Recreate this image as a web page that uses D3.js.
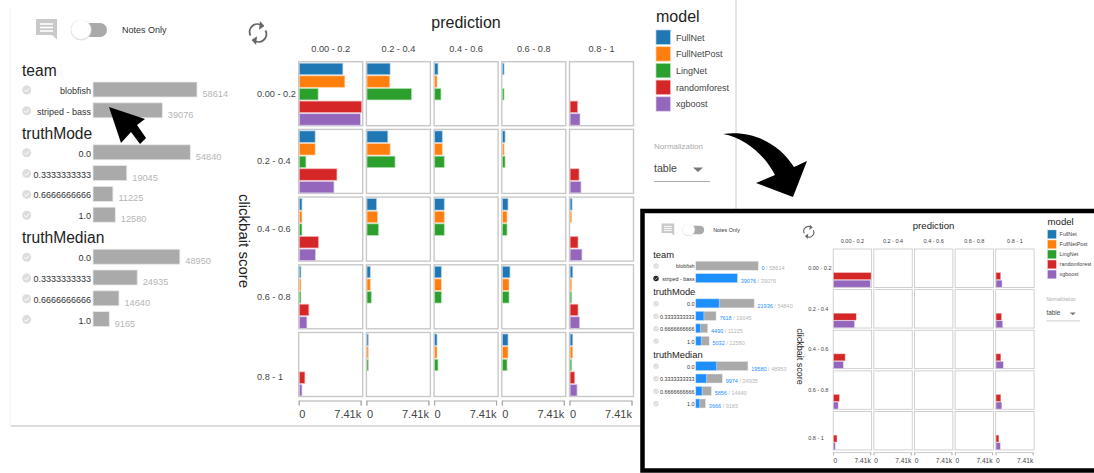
<!DOCTYPE html>
<html lang="en-us">
<head>
<meta charset="UTF-8">
<title>clickbait score</title>
<script src="https://cdn.jsdelivr.net/npm/d3@7"></script>
<style>
  html, body { margin: 0; padding: 0; background: #fff; overflow: hidden; }
  svg { display: block; font-family: "Liberation Sans", Arial, sans-serif; }
</style>
</head>
<body>
<svg id="chart" width="1094" height="473"></svg>
<script>
var bins = ["0.00 - 0.2", "0.2 - 0.4", "0.4 - 0.6", "0.6 - 0.8", "0.8 - 1"];
var models = ["FullNet", "FullNetPost", "LingNet", "randomforest", "xgboost"];
var modelColors = ["#1f77b4", "#ff7f0e", "#2ca02c", "#d62728", "#9467bd"];
var maxCount = 7410;

// one row per clickbait score bin, one column per prediction bin
var fullNet = [
  [5175, 2745, 390, 195, 0],
  [1880, 2470, 900, 315, 0],
  [315, 1135, 1135, 665, 235],
  [195, 390, 785, 900, 315],
  [0, 155, 275, 665, 315]
];
var fullNetPost = [
  [5410, 2705, 275, 0, 0],
  [1880, 2745, 900, 195, 0],
  [315, 1255, 1135, 550, 195],
  [195, 390, 785, 785, 195],
  [0, 155, 275, 665, 315]
];
var lingNet = [
  [2235, 5290, 745, 195, 0],
  [785, 3330, 1135, 315, 0],
  [315, 1370, 1135, 550, 0],
  [195, 510, 785, 785, 195],
  [0, 155, 390, 550, 195]
];
var randomForest = [
  [7410, 0, 0, 0, 900],
  [4470, 0, 0, 0, 1060],
  [2275, 0, 0, 0, 940],
  [1135, 0, 0, 0, 940],
  [665, 0, 0, 0, 550]
];
var xgboost = [
  [7255, 0, 0, 0, 1175],
  [4115, 0, 0, 0, 1295],
  [1920, 0, 0, 0, 1410],
  [900, 0, 0, 0, 1135],
  [315, 0, 0, 0, 825]
];
var modelValues = [fullNet, fullNetPost, lingNet, randomForest, xgboost];

var facetNames = ["team", "truthMode", "truthMedian"];
var facetLabels = [
  ["blobfish", "striped - bass"],
  ["0.0", "0.3333333333", "0.6666666666", "1.0"],
  ["0.0", "0.3333333333", "0.6666666666", "1.0"]
];
var facetTotals = [
  [58614, 39076],
  [54840, 19045, 11225, 12580],
  [48950, 24935, 14640, 9165]
];
var facetSelected = [
  [0, 39076],
  [21936, 7618, 4490, 5032],
  [19580, 9974, 5856, 3666]
];

var svg = d3.select("#chart");
var gray = "#aaaaaa";

function drawFacets(g, filtered) {
  var x = d3.scaleLinear().domain([0, 58614]).range([0, 104]);
  var y = 82;
  facetNames.forEach(function (name, f) {
    g.append("text").attr("x", 22).attr("y", y - 6).attr("font-size", 15.6).attr("fill", "#222").text(name);
    facetLabels[f].forEach(function (label, i) {
      var total = facetTotals[f][i], sel = facetSelected[f][i];
      var checked = filtered && f === 0 && i === 1;
      g.append("circle").attr("cx", 26.7).attr("cy", y + 8).attr("r", 4.5).attr("fill", checked ? "#222" : "#ddd");
      g.append("path").attr("d", "M24.4," + (y + 8) + "l1.7,1.8l3,-3.4").attr("fill", "none").attr("stroke", "#fff").attr("stroke-width", 1);
      g.append("text").attr("x", 91).attr("y", y + 12).attr("text-anchor", "end")
        .attr("font-size", 9).attr("fill", "#333").text(label);
      g.append("rect").attr("x", 93).attr("y", y).attr("width", x(total)).attr("height", 15)
        .attr("fill", gray).attr("stroke", "#e8e8e8").attr("stroke-width", 0.8);
      if (filtered) {
        g.append("rect").attr("x", 93).attr("y", y).attr("width", x(sel)).attr("height", 15)
          .attr("fill", "#1e8fff").attr("stroke", "#d6e9ff").attr("stroke-width", 0.8);
      }
      var t = g.append("text").attr("x", 93 + x(total) + 5.5).attr("y", y + 15).attr("font-size", 9.2).attr("fill", "#b5b5b5");
      if (filtered) {
        t.append("tspan").attr("fill", "#1e8fff").text(sel);
        t.append("tspan").text(" / " + total);
      } else {
        t.text(total);
      }
      y += 20.8;
    });
    y += 21.2;
  });
}

function drawGrid(g, shownModels) {
  var pitch = d3.scaleBand().domain(d3.range(5)).range([298.7, 298.7 + 67.7 * 5]);
  var pitchY = d3.scaleBand().domain(d3.range(5)).range([61.7, 61.7 + 67.7 * 5]);
  var cell = 64;
  var x = d3.scaleLinear().domain([0, maxCount]).range([0.6, 63]);
  var axisX = x.copy().range([0, 62]);
  var band = d3.scaleBand().domain(models).range([1.5, 63.5]).paddingInner(0.09);

  g.append("text").attr("x", 466).attr("y", 28).attr("text-anchor", "middle").attr("font-size", 16).attr("fill", "#222").text("prediction");
  g.append("text").attr("transform", "translate(239,241) rotate(90)").attr("text-anchor", "middle")
    .attr("font-size", 15).attr("fill", "#222").text("clickbait score");

  bins.forEach(function (b, c) {
    g.append("text").attr("x", pitch(c) + cell / 2).attr("y", 51.5).attr("text-anchor", "middle")
      .attr("font-size", 9.2).attr("fill", "#444").text(b);
  });
  bins.forEach(function (b, r) {
    // the last row label sits lower than the cell centre in the original
    g.append("text").attr("x", 257).attr("y", pitchY(r) + cell / 2 + 3 + (r === 4 ? 12 : 0))
      .attr("font-size", 9.2).attr("fill", "#444").text(b);
  });

  d3.range(5).forEach(function (r) {
    d3.range(5).forEach(function (c) {
      var cg = g.append("g").attr("transform", "translate(" + pitch(c) + "," + pitchY(r) + ")");
      cg.append("rect").attr("width", cell).attr("height", cell).attr("fill", "#fff").attr("stroke", "#c8c8c8").attr("stroke-width", 1.4);
      models.forEach(function (m, k) {
        var v = modelValues[k][r][c];
        if (!v || shownModels.indexOf(m) < 0) return;
        cg.append("rect").attr("x", 0.6).attr("y", band(m)).attr("width", x(v) - x(0)).attr("height", band.bandwidth())
          .attr("fill", modelColors[k]).attr("stroke", d3.interpolateRgb(modelColors[k], "#fff")(0.65)).attr("stroke-width", 0.7);
      });
    });
    var ax = d3.axisBottom(axisX).tickValues([0, maxCount]).tickSize(5).tickFormat(function (d) {
      return d === 0 ? "0" : "7.41k";
    });
    var ag = g.append("g").attr("transform", "translate(" + pitch(r) + ",400.5)").call(ax);
    ag.select(".domain").attr("stroke", "#aaa");
    ag.selectAll(".tick line").attr("stroke", "#aaa");
    ag.selectAll(".tick text").attr("font-size", 11).attr("font-family", "Liberation Sans").attr("fill", "#444").attr("dy", "0.85em")
      .attr("text-anchor", function (d) { return d === 0 ? "start" : "end"; });
  });
}

function drawLegend(g) {
  g.append("text").attr("x", 656).attr("y", 22).attr("font-size", 16).attr("fill", "#222").text("model");
  models.forEach(function (m, i) {
    g.append("rect").attr("x", 656).attr("y", 30 + 16.7 * i).attr("width", 14.4).attr("height", 14.4)
      .attr("fill", modelColors[i]).attr("stroke", d3.interpolateRgb(modelColors[i], "#fff")(0.65)).attr("stroke-width", 0.7);
    g.append("text").attr("x", 676).attr("y", 40.5 + 16.7 * i).attr("font-size", 9).attr("fill", "#444").text(m);
  });
  g.append("text").attr("x", 654).attr("y", 148.5).attr("font-size", 8).attr("fill", "#aaa").text("Normalization");
  g.append("text").attr("x", 654).attr("y", 172).attr("font-size", 10.6).attr("fill", "#444").text("table");
  g.append("path").attr("d", "M693,167.5h10l-5,4.5z").attr("fill", "#777");
  g.append("line").attr("x1", 654).attr("x2", 710).attr("y1", 181.5).attr("y2", 181.5).attr("stroke", "#aaa");
}

function drawToolbar(g) {
  g.append("path").attr("d", "M36,19h21v20.5l-5,-4.5h-16z").attr("fill", "#c9c9c9");
  [24, 27.5, 31].forEach(function (ly) {
    g.append("line").attr("x1", 40).attr("x2", 53).attr("y1", ly).attr("y2", ly).attr("stroke", "#fff").attr("stroke-width", 1.6);
  });
  g.append("rect").attr("x", 75).attr("y", 23).attr("width", 32).attr("height", 14).attr("rx", 7).attr("fill", "#aaa");
  g.append("circle").attr("cx", 81).attr("cy", 30).attr("r", 10.5).attr("fill", "#e3e3e3");
  g.append("circle").attr("cx", 81).attr("cy", 29.5).attr("r", 9.7).attr("fill", "#fff");
  g.append("text").attr("x", 122).attr("y", 33).attr("font-size", 9).attr("fill", "#333").text("Notes Only");
}

function drawRefresh(g) {
  var r = g.append("g").attr("transform", "translate(258,33)").attr("fill", "none").attr("stroke", "#666").attr("stroke-width", 1.9);
  r.append("path").attr("d", "M-7.5,2.5A7.8,7.8 0 0 1 4.5,-7");
  r.append("path").attr("d", "M7.5,-2.5A7.8,7.8 0 0 1 -4.5,7");
  r.append("path").attr("d", "M2,-11.5l4,4.5l-5,3.2").attr("fill", "#666").attr("stroke-width", 0.8);
  r.append("path").attr("d", "M-2,11.5l-4,-4.5l5,-3.2").attr("fill", "#666").attr("stroke-width", 0.8);
}

// page frame lines of the screenshot
svg.append("line").attr("x1", 10).attr("x2", 10).attr("y1", 8).attr("y2", 426).attr("stroke", "#f0f0f0");
svg.append("line").attr("x1", 11).attr("x2", 642).attr("y1", 426).attr("y2", 426).attr("stroke", "#bbb");
svg.append("line").attr("x1", 736).attr("x2", 736).attr("y1", 0).attr("y2", 209).attr("stroke", "#ccc");

var big = svg.append("g");
drawToolbar(big);
drawRefresh(big);
drawFacets(big, false);
drawGrid(big, models);
drawLegend(big);

// inset: same view after selecting striped - bass
svg.append("rect").attr("x", 642.5).attr("y", 211).attr("width", 460).attr("height", 259.5)
  .attr("fill", "#fff").attr("stroke", "#000").attr("stroke-width", 4.5);
var insetLeft = svg.append("g").attr("transform", "translate(640,212) scale(0.6)");
drawToolbar(insetLeft);
drawFacets(insetLeft, true);
var insetRight = svg.append("g").attr("transform", "translate(654,212) scale(0.6)");
drawRefresh(insetRight);
drawGrid(insetRight, ["randomforest", "xgboost"]);
drawLegend(insetRight);

// black annotation arrows
svg.append("path").attr("fill", "#000")
  .attr("d", "M109,107L145,119L137,125L146,138L140,144L131,132L121,143Z");
svg.append("path").attr("fill", "#000")
  .attr("d", "M723,134C745,138 765,155 775,175L756,183L793,197L807,161L794,167C780,145 755,130 723,134Z");
</script>
</body>
</html>
